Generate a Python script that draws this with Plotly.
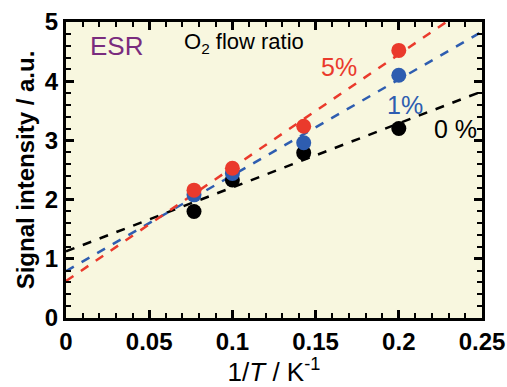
import numpy as np
import plotly.graph_objects as go

inv_T = [1/13, 0.1, 1/7, 0.2]
sig_0 = [1.80, 2.33, 2.79, 3.20]
sig_1 = [2.08, 2.44, 2.96, 4.10]
sig_5 = [2.16, 2.53, 3.24, 4.52]
series = [("0%", sig_0, "#000000"), ("1%", sig_1, "#2E5DB0"), ("5%", sig_5, "#EA3A2C")]
x_ticks = [0, 0.05, 0.1, 0.15, 0.2, 0.25]
x_ticktext = ["0", "0.05", "0.1", "0.15", "0.2", "0.25"]
y_ticks = [0, 1, 2, 3, 4, 5]

fig = go.Figure()
xfit = np.array([0.0, 0.25])
for name, ys, col in series:
    k, b = np.polyfit(inv_T, ys, 1)
    fig.add_trace(go.Scatter(x=xfit, y=k*xfit+b, mode="lines",
                             line=dict(color=col, width=2.5, dash="dash"),
                             showlegend=False, hoverinfo="skip"))
for name, ys, col in series:
    fig.add_trace(go.Scatter(x=inv_T, y=ys, mode="markers",
                             marker=dict(color=col, size=15, line=dict(width=0)),
                             showlegend=False))

font = "Arial, Liberation Sans, sans-serif"
fig.add_annotation(x=0.0135, y=4.6, text="ESR", showarrow=False, xanchor="left",
                   font=dict(family=font, size=26, color="#7A2C7E"))
fig.add_annotation(x=0.070, y=4.64, text="O<sub>2</sub> flow ratio", showarrow=False, xanchor="left",
                   font=dict(family=font, size=22, color="black"))
fig.add_annotation(x=0.152, y=4.24, text="5%", showarrow=False, xanchor="left",
                   font=dict(family=font, size=25, color="#EA3A2C"))
fig.add_annotation(x=0.192, y=3.6, text="1%", showarrow=False, xanchor="left",
                   font=dict(family=font, size=25, color="#2E5DB0"))
fig.add_annotation(x=0.220, y=3.2, text="0 %", showarrow=False, xanchor="left",
                   font=dict(family=font, size=25, color="black"))

axcommon = dict(showline=True, linecolor="black", linewidth=3, mirror="ticks",
                ticks="inside", ticklen=8, tickwidth=2.5, tickcolor="black",
                showgrid=False, zeroline=False, automargin=False,
                tickfont=dict(family=font, size=24, color="black", weight="bold"))
fig.update_xaxes(range=[0, 0.25], tickvals=x_ticks, ticktext=x_ticktext,
                 minor=dict(dtick=0.01, ticks="inside", ticklen=5, tickwidth=2, tickcolor="black", showgrid=False),
                 title=dict(text="1/<i>T</i> / K<sup>-1</sup>", standoff=6,
                            font=dict(family=font, size=26, color="black")),
                 **axcommon)
fig.update_yaxes(range=[0, 5], tickvals=y_ticks,
                 minor=dict(dtick=0.2, ticks="inside", ticklen=5, tickwidth=2, tickcolor="black", showgrid=False),
                 title=dict(text="Signal intensity / a.u.", standoff=4,
                            font=dict(family=font, size=24, color="black", weight="bold")),
                 **axcommon)
fig.update_layout(width=507, height=387, margin=dict(l=66, r=25, t=22, b=69),
                  plot_bgcolor="#F8F7DF", paper_bgcolor="white")
fig.write_html("out.html")
